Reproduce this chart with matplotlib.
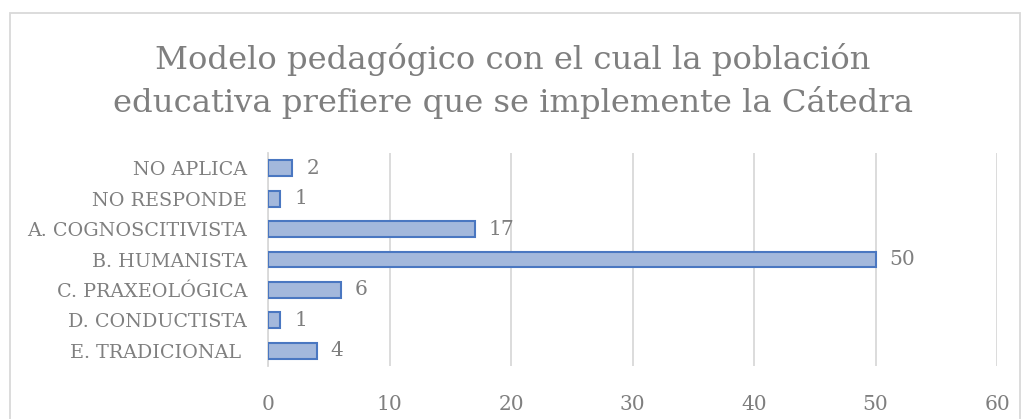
import matplotlib
matplotlib.use("Agg")
import matplotlib.pyplot as plt
from matplotlib.patches import Rectangle

categorias = ["E. TRADICIONAL ", "D. CONDUCTISTA", "C. PRAXEOLÓGICA", "B. HUMANISTA",
              "A. COGNOSCITIVISTA", "NO RESPONDE", "NO APLICA"]
valores = [4, 1, 6, 50, 17, 1, 2]
ticks_x = [0, 10, 20, 30, 40, 50, 60]

titulo = "Modelo pedagógico con el cual la población\neducativa prefiere que se implemente la Cátedra"

gris = "#7f7f7f"
fuente = "DejaVu Serif"

fig = plt.figure(figsize=(10.26, 4.19), dpi=100)
ax = fig.add_axes([268 / 1026, 1 - 366 / 419, (997 - 268) / 1026, 213 / 419])

# marco del grafico
fig.patches.append(Rectangle((10 / 1026, -0.05), 1010 / 1026, 1 - 13 / 419 + 0.05,
                             transform=fig.transFigure, fill=False,
                             edgecolor="#d9d9d9", linewidth=1.3))

y = range(len(categorias))
barras = ax.barh(y, valores, height=0.52, color="#a3b8dc", edgecolor="#4a77c1", linewidth=1.5, zorder=3)

for yi, v in zip(y, valores):
    ax.annotate(str(v), (v, yi), xytext=(10, 0), textcoords="offset points",
                va="center", ha="left", fontsize=14.5, color=gris, family=fuente)

ax.set_xlim(0, 60)
ax.set_ylim(-0.5, len(categorias) - 0.5)
ax.set_xticks(ticks_x)
ax.set_xticklabels([str(t) for t in ticks_x], fontsize=14.5, color=gris, family=fuente)
ax.set_yticks(list(y))
ax.set_yticklabels(categorias, fontsize=13.8, color=gris, family=fuente)
ax.tick_params(axis="both", length=0)
ax.tick_params(axis="x", pad=21)
ax.tick_params(axis="y", pad=15)
ax.grid(axis="x", color="#d9d9d9", linewidth=1.3, zorder=0)
for s in ["top", "right", "bottom"]:
    ax.spines[s].set_visible(False)
ax.spines["left"].set_color("#d9d9d9")
ax.spines["left"].set_linewidth(1.3)

fig.text(513 / 1026, 1 - 81 / 419, titulo, ha="center", va="center", fontsize=23.2,
         color=gris, family=fuente, linespacing=1.35)

fig.savefig("out.png", dpi=100)
